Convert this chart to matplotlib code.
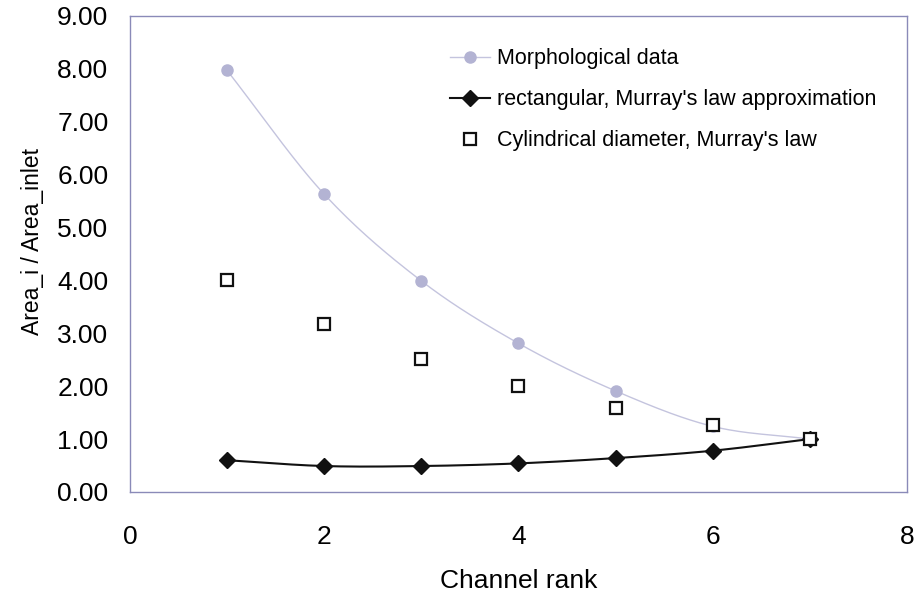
import numpy as np
import matplotlib
matplotlib.use("Agg")
import matplotlib.pyplot as plt
from matplotlib.ticker import FormatStrFormatter

plt.rcParams['font.family'] = ['Liberation Sans', 'DejaVu Sans']

# Channel ranks and area ratios
rank = [1, 2, 3, 4, 5, 6, 7]
morphological = [7.97, 5.63, 3.99, 2.81, 1.91, 1.24, 1.00]
rect_murray = [0.60, 0.49, 0.49, 0.54, 0.64, 0.78, 1.00]
cyl_murray = [4.00, 3.17, 2.52, 2.00, 1.59, 1.26, 1.00]

x_ticks = [0, 2, 4, 6, 8]
y_ticks = [0, 1, 2, 3, 4, 5, 6, 7, 8, 9]


def smooth(xs, ys, n=30):
    """Catmull-Rom curve through the points, like a spreadsheet smoothed line."""
    xs = np.asarray(xs, float)
    ys = np.asarray(ys, float)
    px = np.concatenate([[2 * xs[0] - xs[1]], xs, [2 * xs[-1] - xs[-2]]])
    py = np.concatenate([[2 * ys[0] - ys[1]], ys, [2 * ys[-1] - ys[-2]]])
    out_x, out_y = [], []
    t = np.linspace(0, 1, n, endpoint=False)
    for i in range(1, len(px) - 2):
        for arr, out in ((px, out_x), (py, out_y)):
            p0, p1, p2, p3 = arr[i - 1], arr[i], arr[i + 1], arr[i + 2]
            seg = 0.5 * ((2 * p1) + (-p0 + p2) * t
                         + (2 * p0 - 5 * p1 + 4 * p2 - p3) * t ** 2
                         + (-p0 + 3 * p1 - 3 * p2 + p3) * t ** 3)
            out.extend(seg)
    out_x.append(xs[-1])
    out_y.append(ys[-1])
    return np.array(out_x), np.array(out_y)


fig = plt.figure(figsize=(9.14, 5.92), dpi=100)
ax = fig.add_axes([0.1422, 0.169, 0.8501, 0.804])

lav = '#b3b3d3'
lav_line = '#c4c4de'
ink = '#111111'

mx, my = smooth(rank, morphological)
ax.plot(mx, my, color=lav_line, lw=1.0, zorder=2)
ax.plot(rank, morphological, 'o', color=lav, ms=8, mec=lav, zorder=3)

rx, ry = smooth(rank, rect_murray)
ax.plot(rx, ry, color=ink, lw=1.5, zorder=4)
ax.plot(rank, rect_murray, 'D', color=ink, ms=8.5, zorder=5)

ax.plot(rank, cyl_murray, 's', mfc='white', mec=ink, mew=1.6, ms=8.5,
        ls='none', zorder=6)

# legend proxies
h1, = ax.plot([], [], color=lav_line, lw=1.0, marker='o', ms=8,
              mfc=lav, mec=lav)
h2, = ax.plot([], [], color=ink, lw=1.5, marker='D', ms=8.5)
h3, = ax.plot([], [], ls='none', marker='s', mfc='white', mec=ink,
              mew=1.6, ms=8.5)
ax.legend([h1, h2, h3],
          ['Morphological data', "rectangular, Murray's law approximation",
           "Cylindrical diameter, Murray's law"],
          loc='upper left', bbox_to_anchor=(0.412, 0.9325), frameon=False,
          fontsize=15.5, handlelength=1.86, handletextpad=0.3,
          labelspacing=0.93, borderaxespad=0, borderpad=0)

ax.set_xlim(0, 8)
ax.set_ylim(0, 9)
ax.set_xticks(x_ticks)
ax.set_yticks(y_ticks)
ax.yaxis.set_major_formatter(FormatStrFormatter('%.2f'))
ax.tick_params(length=0, labelsize=19)
ax.tick_params(axis='y', pad=15.5)
ax.tick_params(axis='x', pad=24)
for s in ax.spines.values():
    s.set_color('#8a8ab8')
    s.set_linewidth(1.0)

ax.set_xlabel('Channel rank', fontsize=19, labelpad=14)
ax.set_ylabel('Area_i / Area_inlet', fontsize=16.5)
ax.yaxis.set_label_coords(-0.111, 0.527)

fig.savefig('out.png', dpi=100)
